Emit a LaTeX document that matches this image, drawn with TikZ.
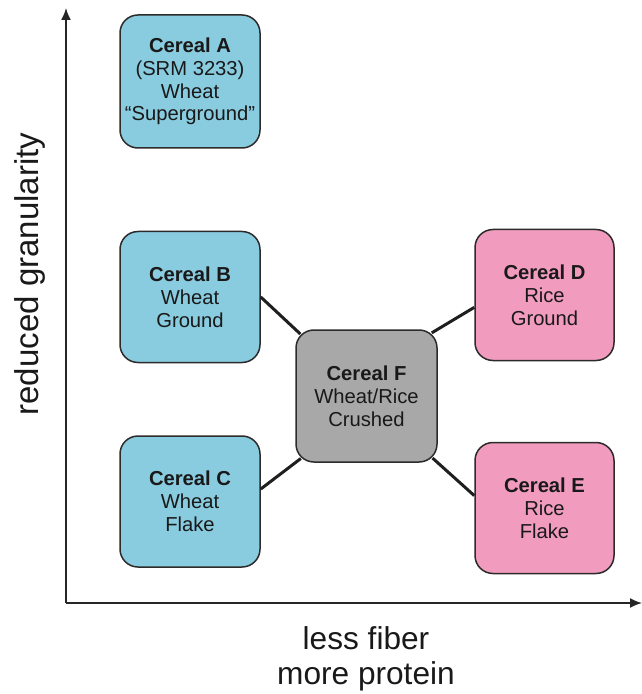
\documentclass[tikz,border=0pt]{standalone}
\usepackage{fontspec}
\setmainfont{Liberation Sans}
\usetikzlibrary{arrows.meta}

\definecolor{wheatblue}{RGB}{137,203,223}
\definecolor{ricepink}{RGB}{241,155,191}
\definecolor{mixgray}{RGB}{168,168,168}
\definecolor{edgegray}{RGB}{45,42,42}

\begin{document}
\begin{tikzpicture}[x=0.2mm,y=-0.2mm,
  cereal/.style={draw=edgegray, line width=0.3mm, rounded corners=3.6mm,
    minimum width=28mm, minimum height=26.2mm, inner sep=0pt, align=center,
    text=black!90, font=\fontsize{11.5}{13}\selectfont},
  link/.style={line width=0.6mm, draw=black!88, shorten <=-1.4mm},
  axis/.style={line width=0.35mm, draw=black!85, -{Latex[length=2.4mm,width=2mm]}},
  axislabel/.style={text=black!90, font=\fontsize{18}{20}\selectfont}]

\useasboundingbox (0,0) rectangle (642,694);

% axes
\coordinate (O) at (66,603);
\coordinate (ytip) at (66,8);
\coordinate (xtip) at (642,603);
\draw[axis] (O) -- (ytip);
\draw[axis] (O) -- (xtip);
\node[axislabel, rotate=90, font=\fontsize{18.8}{20}\selectfont] (granularity) at (30,274) {reduced granularity};
\node[axislabel, align=center] (fiber) at (366,659) {less fiber\\more protein};

% wheat
\node[cereal, fill=wheatblue, minimum height=26.6mm] (A) at (190,81.5)
  {\textbf{Cereal A}\\(SRM 3233)\\Wheat\\“Superground”};
\node[cereal, fill=wheatblue] (B) at (190,297) {\textbf{Cereal B}\\Wheat\\Ground};
\node[cereal, fill=wheatblue] (C) at (190,501.5) {\textbf{Cereal C}\\Wheat\\Flake};
% rice
\node[cereal, fill=ricepink, minimum width=27.8mm] (D) at (544.5,295) {\textbf{Cereal D}\\Rice\\Ground};
\node[cereal, fill=ricepink, minimum width=27.8mm] (E) at (544.5,508) {\textbf{Cereal E}\\Rice\\Flake};
% mixed
\node[cereal, fill=mixgray, minimum width=28.2mm, minimum height=26.4mm] (F) at (366.5,396)
  {\textbf{Cereal F}\\Wheat/Rice\\Crushed};

% links
\draw[link] (F.north west) -- (B.east);
\draw[link] (F.north east) -- (D.190);
\draw[link] (F.south west) -- (C.10);
\draw[link] (F.south east) -- (E.170);

\end{tikzpicture}
\end{document}
